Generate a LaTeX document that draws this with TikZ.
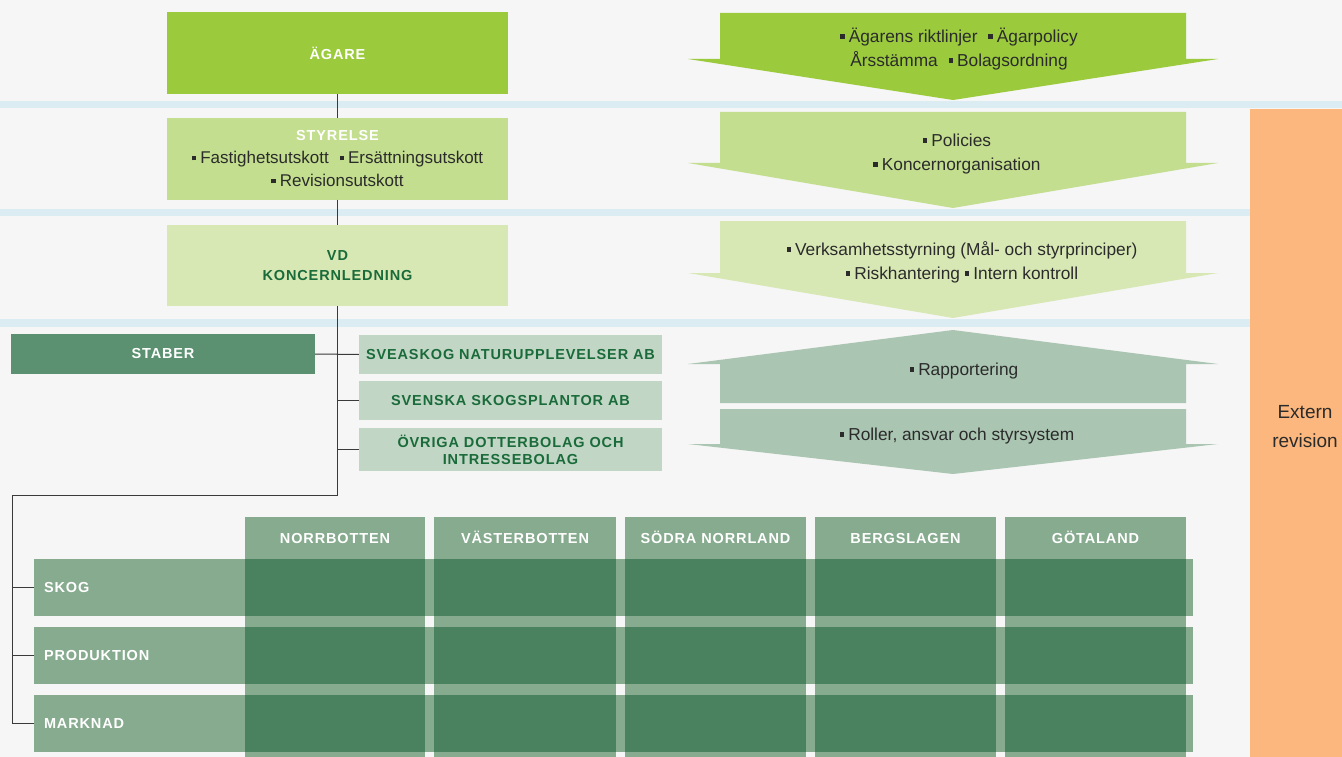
\documentclass[tikz,border=0pt]{standalone}
\usepackage{fontspec}
\setmainfont{Liberation Sans}
\newfontfamily\lblfont[LetterSpace=6]{Liberation Sans}
\definecolor{bgc}{HTML}{F6F6F6}
\definecolor{sepc}{HTML}{DCECF3}
\definecolor{cA}{HTML}{9BCB3C}
\definecolor{cB}{HTML}{C3DE8E}
\definecolor{cC}{HTML}{D8E8B5}
\definecolor{cR}{HTML}{AAC5B1}
\definecolor{cStab}{HTML}{5B9170}
\definecolor{cSub}{HTML}{C2D6C6}
\definecolor{dgtext}{HTML}{1A6B3A}
\definecolor{gl}{HTML}{87AB8F}
\definecolor{gd}{HTML}{4A825F}
\definecolor{cOr}{HTML}{FBB77D}
\definecolor{txt}{HTML}{2B2B2B}
\definecolor{linec}{HTML}{3A3A3A}
\newcommand{\sqb}{\raisebox{3.5pt}{\rule{4.5pt}{4.5pt}}\hspace{4pt}}
\newcommand{\lbl}{\lblfont\bfseries\fontsize{14.5}{17}\selectfont}
\begin{document}
\begin{tikzpicture}[x=1pt,y=-1pt,
  box/.style={rectangle, inner sep=0pt, align=center, text=txt,
    font=\fontsize{17}{23}\selectfont},
  bodytext/.style={inner sep=0pt, align=center, text=txt, font=\fontsize{17.3}{24}\selectfont},
  rowstrip/.style={rectangle, fill=gl, inner ysep=0pt, inner xsep=10pt,
    text width=1139pt, minimum height=57pt, align=left, text=white, font=\lbl},
  colhead/.style={inner sep=0pt, anchor=base, text=white, font=\lbl},
  conn/.style={draw=linec, line width=1pt}
]
\useasboundingbox (0,0) rectangle (1342,757);
\fill[bgc] (0,0) rectangle (1342,757);
% separators
\fill[sepc] (0,101) rectangle (1342,108);
\fill[sepc] (0,209) rectangle (1342,216);
\fill[sepc] (0,319) rectangle (1342,327);
% external audit
\fill[cOr] (1250,109) rectangle (1342,757);
\node[inner sep=0pt, align=center, text=txt, font=\fontsize{19}{29}\selectfont] (extern) at (1305,427) {Extern\\revision};

% left hierarchy
\node[box, fill=cA, minimum width=341pt, minimum height=82pt] (agare) at (337.5,53) {\textcolor{white}{\lbl ÄGARE}};
\node[box, fill=cB, minimum width=341pt, minimum height=81pt] (styrelse) at (337.5,159)
  {\textcolor{white}{\lbl STYRELSE}\\\sqb Fastighetsutskott\hspace{6pt} \sqb Ersättningsutskott\\\sqb Revisionsutskott};
\node[box, fill=cC, minimum width=341pt, minimum height=81pt, font=\lbl\linespread{1.18}\selectfont, text=dgtext] (vd) at (337.5,265.5)
  {VD\\KONCERNLEDNING};

\node[box, fill=cStab, minimum width=304pt, minimum height=40pt, text=white, font=\lbl] (staber) at (163,354) {STABER};
\node[box, fill=cSub, minimum width=303pt, minimum height=39pt, text=dgtext, font=\lbl] (sveaskog) at (510.5,354.5) {SVEASKOG NATURUPPLEVELSER AB};
\node[box, fill=cSub, minimum width=303pt, minimum height=39pt, text=dgtext, font=\lbl] (plantor) at (510.5,400.5) {SVENSKA SKOGSPLANTOR AB};
\node[box, fill=cSub, minimum width=303pt, minimum height=43pt, text=dgtext, font=\lbl] (ovriga) at (510.5,449.5) {ÖVRIGA DOTTERBOLAG OCH\\INTRESSEBOLAG};

% arrows
\fill[cA] (720,13) -- (1186,13) -- (1186,59) -- (1218,59) -- (953,100) -- (688,59) -- (720,59) -- cycle;
\fill[cB] (720,112) -- (1186,112) -- (1186,163) -- (1218,163) -- (953,208) -- (688,163) -- (720,163) -- cycle;
\fill[cC] (720,221) -- (1186,221) -- (1186,273) -- (1218,273) -- (953,318) -- (688,273) -- (720,273) -- cycle;
\fill[cR] (953,330) -- (1218,364) -- (1186,364) -- (1186,403) -- (720,403) -- (720,364) -- (688,364) -- cycle;
\fill[cR] (720,409) -- (1186,409) -- (1186,444) -- (1218,444) -- (953,474) -- (688,444) -- (720,444) -- cycle;
\node[bodytext] (t1) at (959,49) {\sqb Ägarens riktlinjer\hspace{6pt} \sqb Ägarpolicy\\Årsstämma\hspace{6pt} \sqb Bolagsordning};
\node[bodytext] (t2) at (957,154) {\sqb Policies\\\sqb Koncernorganisation};
\node[bodytext] (t3) at (962,262) {\sqb Verksamhetsstyrning (Mål- och styrprinciper)\\\sqb Riskhantering \sqb Intern kontroll};
\node[bodytext] (t4) at (964,371) {\sqb Rapportering};
\node[bodytext] (t5) at (957,436) {\sqb Roller, ansvar och styrsystem};

% grid columns
\foreach \a/\b in {245/425,434/616,625/806,815/996,1005/1186}{
  \fill[gl] (\a,517) rectangle (\b,757);
}
\node[colhead] (c1) at (335,543) {NORRBOTTEN};
\node[colhead] (c2) at (525,543) {VÄSTERBOTTEN};
\node[colhead] (c3) at (715.5,543) {SÖDRA NORRLAND};
\node[colhead] (c4) at (905.5,543) {BERGSLAGEN};
\node[colhead] (c5) at (1095.5,543) {GÖTALAND};
% grid rows
\node[rowstrip] (skog) at (613.5,587.5) {SKOG};
\node[rowstrip] (produktion) at (613.5,655.5) {PRODUKTION};
\node[rowstrip] (marknad) at (613.5,723.5) {MARKNAD};
% dark cells
\foreach \a/\b in {245/425,434/616,625/806,815/996,1005/1186}{
  \foreach \c/\d in {559/616,627/684,695/752}{
    \fill[gd] (\a,\c) rectangle (\b,\d);
  }
}

% connectors
\coordinate (bendA) at (337.5,495);
\coordinate (bendB) at (12.5,495);
\draw[conn] (agare.south) -- (styrelse.north);
\draw[conn] (styrelse.south) -- (vd.north);
\draw[conn] (vd.south) -- (bendA) -- (bendB) -- (bendB |- marknad.west) -- (marknad.west);
\draw[conn] (bendB |- skog.west) -- (skog.west);
\draw[conn] (bendB |- produktion.west) -- (produktion.west);
\draw[conn] (staber.east) -- (sveaskog.west);
\draw[conn] (vd.south |- plantor.west) -- (plantor.west);
\draw[conn] (vd.south |- ovriga.west) -- (ovriga.west);
\end{tikzpicture}
\end{document}
